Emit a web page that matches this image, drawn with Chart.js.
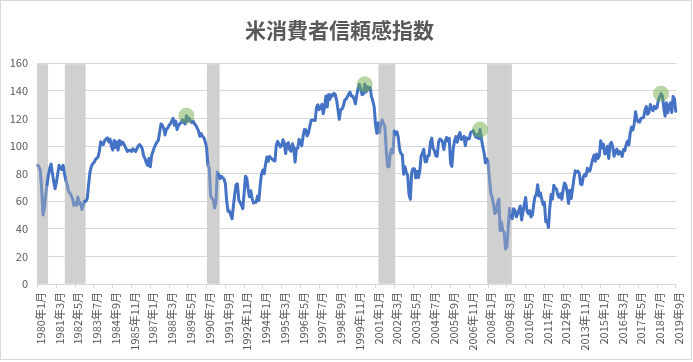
<!DOCTYPE html>
<html lang="ja">
<head>
<meta charset="utf-8">
<title>米消費者信頼感指数</title>
<script src="https://cdn.jsdelivr.net/npm/chart.js@4.4.1/dist/chart.umd.min.js"></script>
<style>
  html, body { margin: 0; padding: 0; background: #fff; }
  #wrap { position: relative; width: 693px; height: 362px; }
</style>
</head>
<body>
<div id="wrap"><canvas id="cci"></canvas></div>
<script>
// ---- data (monthly, 1980年1月 - 2019年9月) ----
const startYear = 1980;

const cci1980s = [
  86, 85, 82, 68, 50, 55, 65, 72, 79, 84, 87, 80,
  74, 69, 74, 80, 86, 84, 83, 86, 80, 75, 72, 67,
  66, 64, 62, 57, 59, 57, 63, 58, 59, 54, 57, 60,
  60, 62, 72, 81, 85, 87, 88, 90, 91, 92, 96, 103,
  102, 101, 104, 105, 106, 103, 105, 100, 97, 104, 99, 103,
  97, 104, 101, 103, 102, 100, 98, 96, 97, 97, 96, 98,
  97, 96, 98, 100, 101, 100, 98, 93, 91, 88, 86, 91,
  85, 93, 96, 99, 101, 103, 104, 110, 116, 115, 113, 108,
  112, 113, 115, 116, 118, 120, 115, 118, 112, 115, 116, 117,
  119, 117, 116, 122, 118, 120, 118, 117, 118, 116, 115, 113
];
const cci1990s = [
  111, 107, 109, 107, 106, 103, 99, 86, 84, 64, 62, 61,
  55.1, 59.4, 81.1, 79.4, 76.4, 78.0, 77.0, 76.1, 72.9, 60.1, 52.7, 52.9,
  50.2, 47.3, 56.5, 65.1, 71.9, 72.6, 61.2, 59.0, 57.3, 54.6, 65.6, 78.1,
  76.7, 68.5, 63.2, 67.6, 61.9, 58.6, 59.2, 59.3, 63.8, 60.5, 71.9, 79.8,
  82.6, 79.9, 86.7, 92.1, 88.9, 92.5, 91.3, 90.4, 89.5, 89.1, 100.4, 103.4,
  101.4, 99.4, 100.2, 104.6, 102.0, 94.6, 101.4, 102.4, 97.3, 96.3, 101.6, 99.2,
  88.4, 98.0, 98.4, 104.8, 103.5, 100.1, 107.0, 112.0, 111.8, 107.3, 109.5, 114.2,
  118.7, 118.9, 118.5, 118.5, 127.9, 129.9, 126.3, 127.6, 130.2, 123.4, 128.1, 136.2,
  128.3, 137.4, 133.8, 137.2, 136.3, 138.2, 137.2, 133.1, 126.4, 119.3, 126.4, 126.7,
  128.9, 133.1, 134.0, 135.5, 137.7, 139.0, 136.2, 136.0, 134.2, 130.5, 137.0, 141.7
];
const cci2000s = [
  144.7, 140.8, 137.1, 137.7, 144.7, 139.2, 143.0, 140.8, 142.5, 135.8, 132.6, 128.6,
  115.7, 109.2, 116.9, 109.9, 116.1, 118.9, 116.3, 114.0, 97.0, 85.3, 84.9, 94.6,
  97.8, 95.0, 110.7, 108.5, 110.3, 106.3, 97.4, 94.5, 93.7, 79.6, 84.9, 80.7,
  78.8, 64.8, 61.4, 81.0, 83.6, 83.5, 77.0, 81.7, 77.0, 81.7, 92.5, 94.8,
  97.7, 88.5, 88.5, 93.0, 93.1, 102.8, 105.7, 98.2, 96.7, 92.9, 92.6, 102.7,
  105.1, 104.4, 103.0, 97.5, 103.1, 106.2, 103.6, 105.5, 87.5, 85.2, 98.3, 103.8,
  106.8, 102.7, 107.5, 109.8, 104.7, 105.4, 107.0, 100.2, 105.9, 105.1, 105.3, 110.0,
  110.2, 111.2, 108.2, 106.3, 108.5, 105.3, 111.9, 105.6, 99.5, 95.2, 87.8, 90.6,
  87.3, 76.4, 65.9, 62.8, 58.1, 51.0, 51.9, 58.5, 61.4, 38.8, 44.7, 38.6,
  37.4, 25.3, 26.9, 40.8, 54.8, 49.3, 47.4, 54.5, 53.4, 48.7, 50.6, 53.6
];
const cci2010s = [
  56.5, 46.4, 52.3, 57.7, 62.7, 52.9, 51.0, 53.2, 48.6, 49.9, 57.8, 63.4,
  64.8, 72.0, 63.8, 66.0, 61.7, 57.6, 59.2, 45.2, 46.4, 40.9, 55.2, 64.8,
  61.5, 71.6, 69.5, 68.7, 64.4, 62.7, 65.4, 61.3, 68.4, 73.1, 71.5, 66.7,
  58.4, 68.0, 61.9, 69.0, 76.2, 82.1, 81.0, 81.8, 80.2, 72.4, 72.0, 77.5,
  79.4, 78.3, 83.9, 81.7, 82.2, 86.4, 90.3, 93.4, 89.0, 94.1, 91.0, 93.1,
  103.8, 98.8, 101.4, 94.3, 94.6, 99.8, 91.0, 101.3, 102.6, 99.1, 92.6, 96.3,
  97.8, 94.0, 96.1, 94.7, 92.4, 97.4, 96.7, 101.1, 103.5, 100.8, 109.4, 113.7,
  111.6, 116.1, 124.9, 119.4, 117.6, 117.3, 120.0, 120.4, 120.6, 125.9, 128.6, 123.1,
  124.3, 130.0, 127.0, 125.6, 128.8, 127.1, 127.9, 133.4, 135.3, 137.9, 136.4, 128.1,
  121.7, 131.4, 124.1, 129.2, 131.3, 124.3, 135.8, 134.2, 125.1
];

// recession bands (first / last month shaded)
const recessions = [
  ['1980年1月', '1980年8月'],
  ['1981年10月', '1982年12月'],
  ['1990年8月', '1991年4月'],
  ['2001年4月', '2002年3月'],
  ['2008年1月', '2009年6月']
];
const bandTop = 159;

// peaks marked with green circles
const peaks = ['1989年4月', '2000年5月', '2007年7月', '2018年10月'];

const yTicks = [0, 20, 40, 60, 80, 100, 120, 140, 160];
const labelEvery = 14;

// ---- build ----
const cci = [...cci1980s, ...cci1990s, ...cci2000s, ...cci2010s];
const months = [];
for (let i = 0; i < cci.length; i++) {
    months.push((startYear + Math.floor(i / 12)) + '年' + (i % 12 + 1) + '月');
}

const bandData = months.map(() => null);
recessions.forEach(([from, to]) => {
    const a = months.indexOf(from), b = months.indexOf(to);
    for (let i = a; i <= b; i++) bandData[i] = bandTop;
});

const peakData = months.map((m, i) => peaks.includes(m) ? cci[i] : null);

// line looks washed out where it runs through a grey band
const inBand = i => bandData[i] !== null;

Chart.defaults.font.family = "'Noto Sans CJK JP', 'Noto Sans', sans-serif";
Chart.defaults.font.size = 11;
Chart.defaults.color = '#595959';

// white background + light frame like the Excel chart area
const frame = {
    id: 'frame',
    beforeDraw(chart) {
        const c = chart.ctx;
        c.save();
        c.fillStyle = '#fff';
        c.fillRect(0, 0, chart.width, chart.height);
        c.strokeStyle = '#d9d9d9';
        c.lineWidth = 1;
        c.strokeRect(0.5, 0.5, chart.width - 2, chart.height - 3);
        c.restore();
    }
};

new Chart(document.getElementById('cci'), {
    type: 'line',
    data: {
        labels: months,
        datasets: [
            {
                label: 'peak',
                data: peakData,
                showLine: false,
                pointRadius: 8,
                pointHoverRadius: 8,
                pointBorderWidth: 0,
                pointBackgroundColor: 'rgba(112,173,71,0.5)',
                order: 0
            },
            {
                label: '消費者信頼感指数',
                data: cci,
                borderColor: '#4472C4',
                borderWidth: 3,
                borderJoinStyle: 'round',
                borderCapStyle: 'round',
                pointRadius: 0,
                tension: 0,
                segment: {
                    borderColor: ctx => (inBand(ctx.p0DataIndex) && inBand(ctx.p1DataIndex)) ? '#7390c0' : undefined
                },
                order: 1
            },
            {
                type: 'bar',
                label: '景気後退',
                data: bandData,
                backgroundColor: '#d0d0d0',
                borderWidth: 0,
                barPercentage: 1,
                categoryPercentage: 1,
                order: 2
            }
        ]
    },
    options: {
        responsive: true,
        maintainAspectRatio: false,
        animation: false,
        layout: { padding: { left: 0, right: 14, top: 0, bottom: 0 } },
        plugins: {
            legend: { display: false },
            tooltip: { enabled: false },
            title: {
                display: true,
                text: '米消費者信頼感指数',
                color: '#595959',
                font: { size: 21, weight: 'bold' },
                padding: { top: 17, bottom: 21 }
            }
        },
        scales: {
            x: {
                type: 'category',
                offset: true,
                grid: {
                    drawOnChartArea: false,
                    offset: false,
                    tickLength: 4,
                    tickColor: ctx => ctx.index % labelEvery === 0 ? '#d9d9d9' : 'rgba(0,0,0,0)'
                },
                border: { color: '#d9d9d9' },
                ticks: {
                    autoSkip: false,
                    maxRotation: 90,
                    minRotation: 90,
                    padding: 4,
                    labelOffset: 3,
                    callback(v, i) { return i % labelEvery === 0 ? this.getLabelForValue(v) : ''; }
                },
                afterFit(s) { s.height = 78; }
            },
            y: {
                min: yTicks[0],
                max: yTicks[yTicks.length - 1],
                afterBuildTicks(s) { s.ticks = yTicks.map(v => ({ value: v })); },
                grid: { color: '#d9d9d9', drawTicks: false },
                border: { display: false },
                ticks: { padding: 9 },
                afterFit(s) { s.width = 37; }
            }
        }
    },
    plugins: [frame]
});
</script>
</body>
</html>
